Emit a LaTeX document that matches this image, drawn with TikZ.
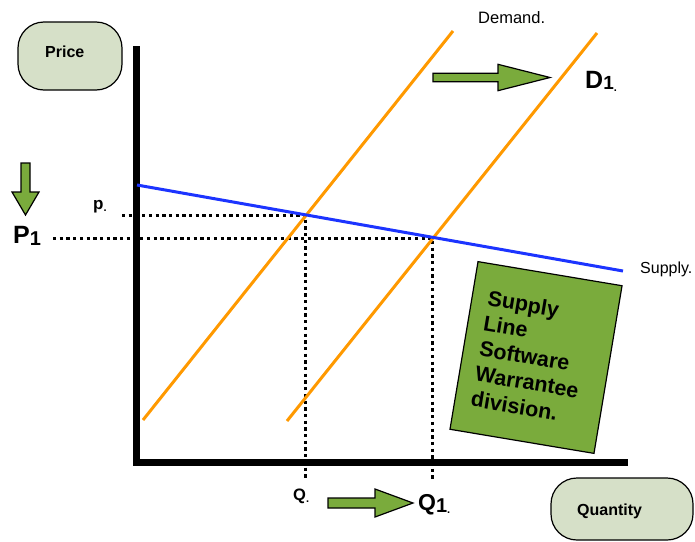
\documentclass[tikz,border=0pt]{standalone}
\usepackage{fontspec}
\setmainfont{Liberation Sans}
\definecolor{arrowgreen}{RGB}{122,171,60}
\definecolor{pillgreen}{RGB}{214,224,200}
\definecolor{demandorange}{RGB}{255,153,0}
\definecolor{supplyblue}{RGB}{28,52,255}
\begin{document}
\begin{tikzpicture}[x=1pt, y=-1pt,
  pill/.style={draw, line width=1.2pt, fill=pillgreen, rounded corners=26pt, inner sep=0pt},
  lbl/.style={inner sep=0pt, anchor=base west},
  guide/.style={line width=3pt, dash pattern=on 3.3pt off 3.4pt},
  demandline/.style={line width=3pt, demandorange},
  blockarrow/.style={draw, line width=1.2pt, fill=arrowgreen, line join=miter}
]
\useasboundingbox (0,0) rectangle (695,541);
% axis boxes
\node[pill, minimum width=104pt, minimum height=68pt] (pricebox) at (70,56) {};
\node[lbl, font=\fontsize{16}{16}\selectfont\bfseries] (pricetxt) at (45,57) {Price};
\node[pill, minimum width=142pt, minimum height=62pt] (qtybox) at (622,509) {};
\node[lbl, font=\fontsize{16}{16}\selectfont\bfseries] (qtytxt) at (577,515) {Quantity};
% points
\coordinate (ytop) at (136.5,46);
\coordinate (orig) at (136.5,462.5);
\coordinate (xend) at (628,462.5);
\coordinate (d0a) at (143,420);
\coordinate (d0b) at (453,31);
\coordinate (d1a) at (287,421);
\coordinate (d1b) at (597,33);
\coordinate (s0) at (137,185);
\coordinate (s1) at (623,271);
\coordinate (e0) at (305,215);
\coordinate (e1) at (432,238);
\coordinate (pL) at (122,215);
\coordinate (p1L) at (53,238);
\coordinate (qB) at (305,479);
\coordinate (q1B) at (432,479);
% guides
\draw[guide] (pL) -- (e0) -- (qB);
\draw[guide] (p1L) -- (e1) -- (q1B);
% axes
\draw[line width=7pt, line join=miter] (ytop) -- (orig) -- (xend);
% demand and supply
\draw[demandline] (d0a) -- (d0b);
\draw[demandline] (d1a) -- (d1b);
\draw[line width=3pt, supplyblue] (s0) -- (s1);
% labels
\node[lbl, font=\fontsize{16.5}{16.5}\selectfont] (demand) at (478,23) {Demand.};
\node[lbl, font=\fontsize{16}{16}\selectfont] (supply) at (640,273) {Supply.};
\node[lbl, font=\bfseries] (dlbl) at (585,88) {\fontsize{25}{25}\selectfont D\raisebox{-1pt}{\fontsize{19}{19}\selectfont 1}\raisebox{-3pt}{\fontsize{11}{11}\selectfont .}};
\node[lbl, font=\bfseries] (plbl) at (13,243) {\fontsize{25}{25}\selectfont P\raisebox{-2pt}{\fontsize{20}{20}\selectfont 1}};
\node[lbl, font=\bfseries] (plow) at (93,209) {\fontsize{17}{17}\selectfont p\raisebox{-2pt}{\fontsize{11}{11}\selectfont .}};
\node[lbl, font=\bfseries] (qlow) at (293,500) {\fontsize{16.5}{16.5}\selectfont Q\raisebox{-2pt}{\fontsize{11}{11}\selectfont .}};
\node[lbl, font=\bfseries] (qlbl) at (418,510) {\fontsize{23}{23}\selectfont Q\raisebox{-2pt}{\fontsize{20}{20}\selectfont 1}\raisebox{-3pt}{\fontsize{11}{11}\selectfont .}};
% shift arrows
\draw[blockarrow] (433,73.3) -- (498,73.3) -- (498,64.3) -- (550,77.5) -- (498,90.7) -- (498,81.7) -- (433,81.7) -- cycle;
\draw[blockarrow] (328,498) -- (375,498) -- (375,489) -- (413,503) -- (375,517) -- (375,508) -- (328,508) -- cycle;
\draw[blockarrow] (21,163) -- (30,163) -- (30,192) -- (39,192) -- (25.5,215) -- (12,192) -- (21,192) -- cycle;
% note
\node[draw, line width=1.2pt, fill=arrowgreen, rotate=-9.5, minimum width=146pt, minimum height=170pt,
  text width=114pt, inner xsep=16pt, align=left, font=\fontsize{21.5}{25.5}\selectfont\bfseries]
  (division) at (536,357.5) {Supply\\Line\\Software\\Warrantee\\division.};
\end{tikzpicture}
\end{document}
